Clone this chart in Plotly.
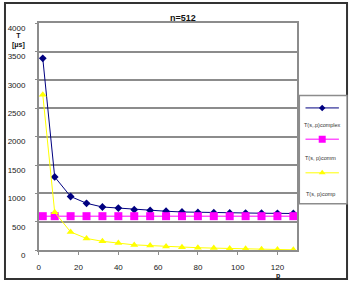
import plotly.graph_objects as go

W, H = 352, 291

p = [2, 8, 16, 24, 32, 40, 48, 56, 64, 72, 80, 88, 96, 104, 112, 120, 128]
t_complex = [3380, 1290, 945, 825, 760, 740, 712, 700, 685, 672, 665, 660, 655, 652, 650, 648, 645]
t_comm = [598, 598, 598, 598, 598, 598, 598, 598, 598, 598, 598, 598, 598, 598, 598, 598, 598]
t_comp = [2740, 668, 320, 205, 155, 125, 92, 80, 65, 52, 42, 35, 28, 22, 16, 10, 5]

names = ["T(s,.p)complex", "T(s, p)comm", "T(s, p)comp"]
colors = ["#000080", "#FF00FF", "#FFFF00"]
symbols = ["diamond", "square", "triangle-up"]
msizes = [6, 8, 7]
y_ticks = [0, 500, 1000, 1500, 2000, 2500, 3000, 3500, 4000]
x_ticks = [0, 20, 40, 60, 80, 100, 120]

def px(x):
    return x / W

def py(y):
    return (H - y) / H

fig = go.Figure()
for ys, c, s, ms, n in zip([t_complex, t_comm, t_comp], colors, symbols, msizes, names):
    fig.add_trace(go.Scatter(x=p, y=ys, mode="lines+markers", name=n,
                             line=dict(color=c, width=1),
                             marker=dict(symbol=s, size=ms, color=c),
                             cliponaxis=False))

# legend glyphs on an invisible overlay axis
leg_y = [0.886, 0.597, 0.286]
for c, s, ms, ly in zip(colors, symbols, msizes, leg_y):
    fig.add_trace(go.Scatter(x=[0.13, 0.48, 0.83], y=[ly, ly, ly], mode="lines",
                             line=dict(color=c, width=1), xaxis="x2", yaxis="y2",
                             showlegend=False, hoverinfo="skip"))
    fig.add_trace(go.Scatter(x=[0.48], y=[ly], mode="markers",
                             marker=dict(symbol=s, size=ms - 1, color=c), xaxis="x2", yaxis="y2",
                             showlegend=False, hoverinfo="skip"))

grid = "#8c8c8c"
fig.update_layout(
    width=W, height=H,
    margin=dict(l=0, r=0, t=0, b=0),
    paper_bgcolor="white", plot_bgcolor="white",
    showlegend=False,
    font=dict(family="Liberation Sans, Arial, sans-serif", size=8, color="#222"),
    xaxis=dict(domain=[px(37), px(297)], range=[0, 130], tickvals=x_ticks,
               showgrid=False, zeroline=False, showline=True, linecolor=grid, linewidth=1.5,
               mirror=True, ticks="outside", ticklen=3, tickcolor=grid,
               ticklabelstandoff=6, tickfont=dict(size=8)),
    yaxis=dict(domain=[py(259), py(24)], range=[0, 4000], tickvals=y_ticks,
               showgrid=True, gridcolor=grid, gridwidth=1.5, zeroline=False,
               showline=True, linecolor=grid, linewidth=1.5, mirror=True,
               ticks="outside", ticklen=2, tickcolor=grid,
               ticklabelstandoff=8, ticklabelshift=5, tickfont=dict(size=8)),
    xaxis2=dict(domain=[px(299), px(347)], range=[0, 1], visible=False, anchor="y2"),
    yaxis2=dict(domain=[py(211), py(99)], range=[0, 1], visible=False, anchor="x2"),
)

shapes = [
    dict(type="rect", xref="paper", yref="paper", x0=px(3), x1=px(347), y0=py(289), y1=py(3),
         line=dict(color="#333", width=2), fillcolor="rgba(0,0,0,0)", layer="below"),
    dict(type="rect", xref="paper", yref="paper", x0=px(299), x1=px(347), y0=py(211), y1=py(99),
         line=dict(color=grid, width=1.5), fillcolor="white", layer="below"),
]
fig.update_layout(shapes=shapes)

ann = [
    dict(text="<b>n=512</b>", x=px(182), y=py(19), font=dict(size=9, color="#111")),
    dict(text="<b>T<br>[μs]</b>", x=px(17), y=py(42), font=dict(size=7, color="#111")),
    dict(text="<b>p</b>", x=px(278), y=py(291), yanchor="bottom", font=dict(size=7, color="#111")),
    dict(text=names[0], x=px(322), y=py(129), font=dict(size=5.5, color="#333")),
    dict(text=names[1], x=px(320), y=py(164), font=dict(size=5.5, color="#333")),
    dict(text=names[2], x=px(320), y=py(201), font=dict(size=5.5, color="#333")),
]
for a in ann:
    a.setdefault("yanchor", "middle")
    a.update(xref="paper", yref="paper", showarrow=False, xanchor="center", borderpad=0)
fig.update_layout(annotations=ann)

fig.write_html("out.html")
